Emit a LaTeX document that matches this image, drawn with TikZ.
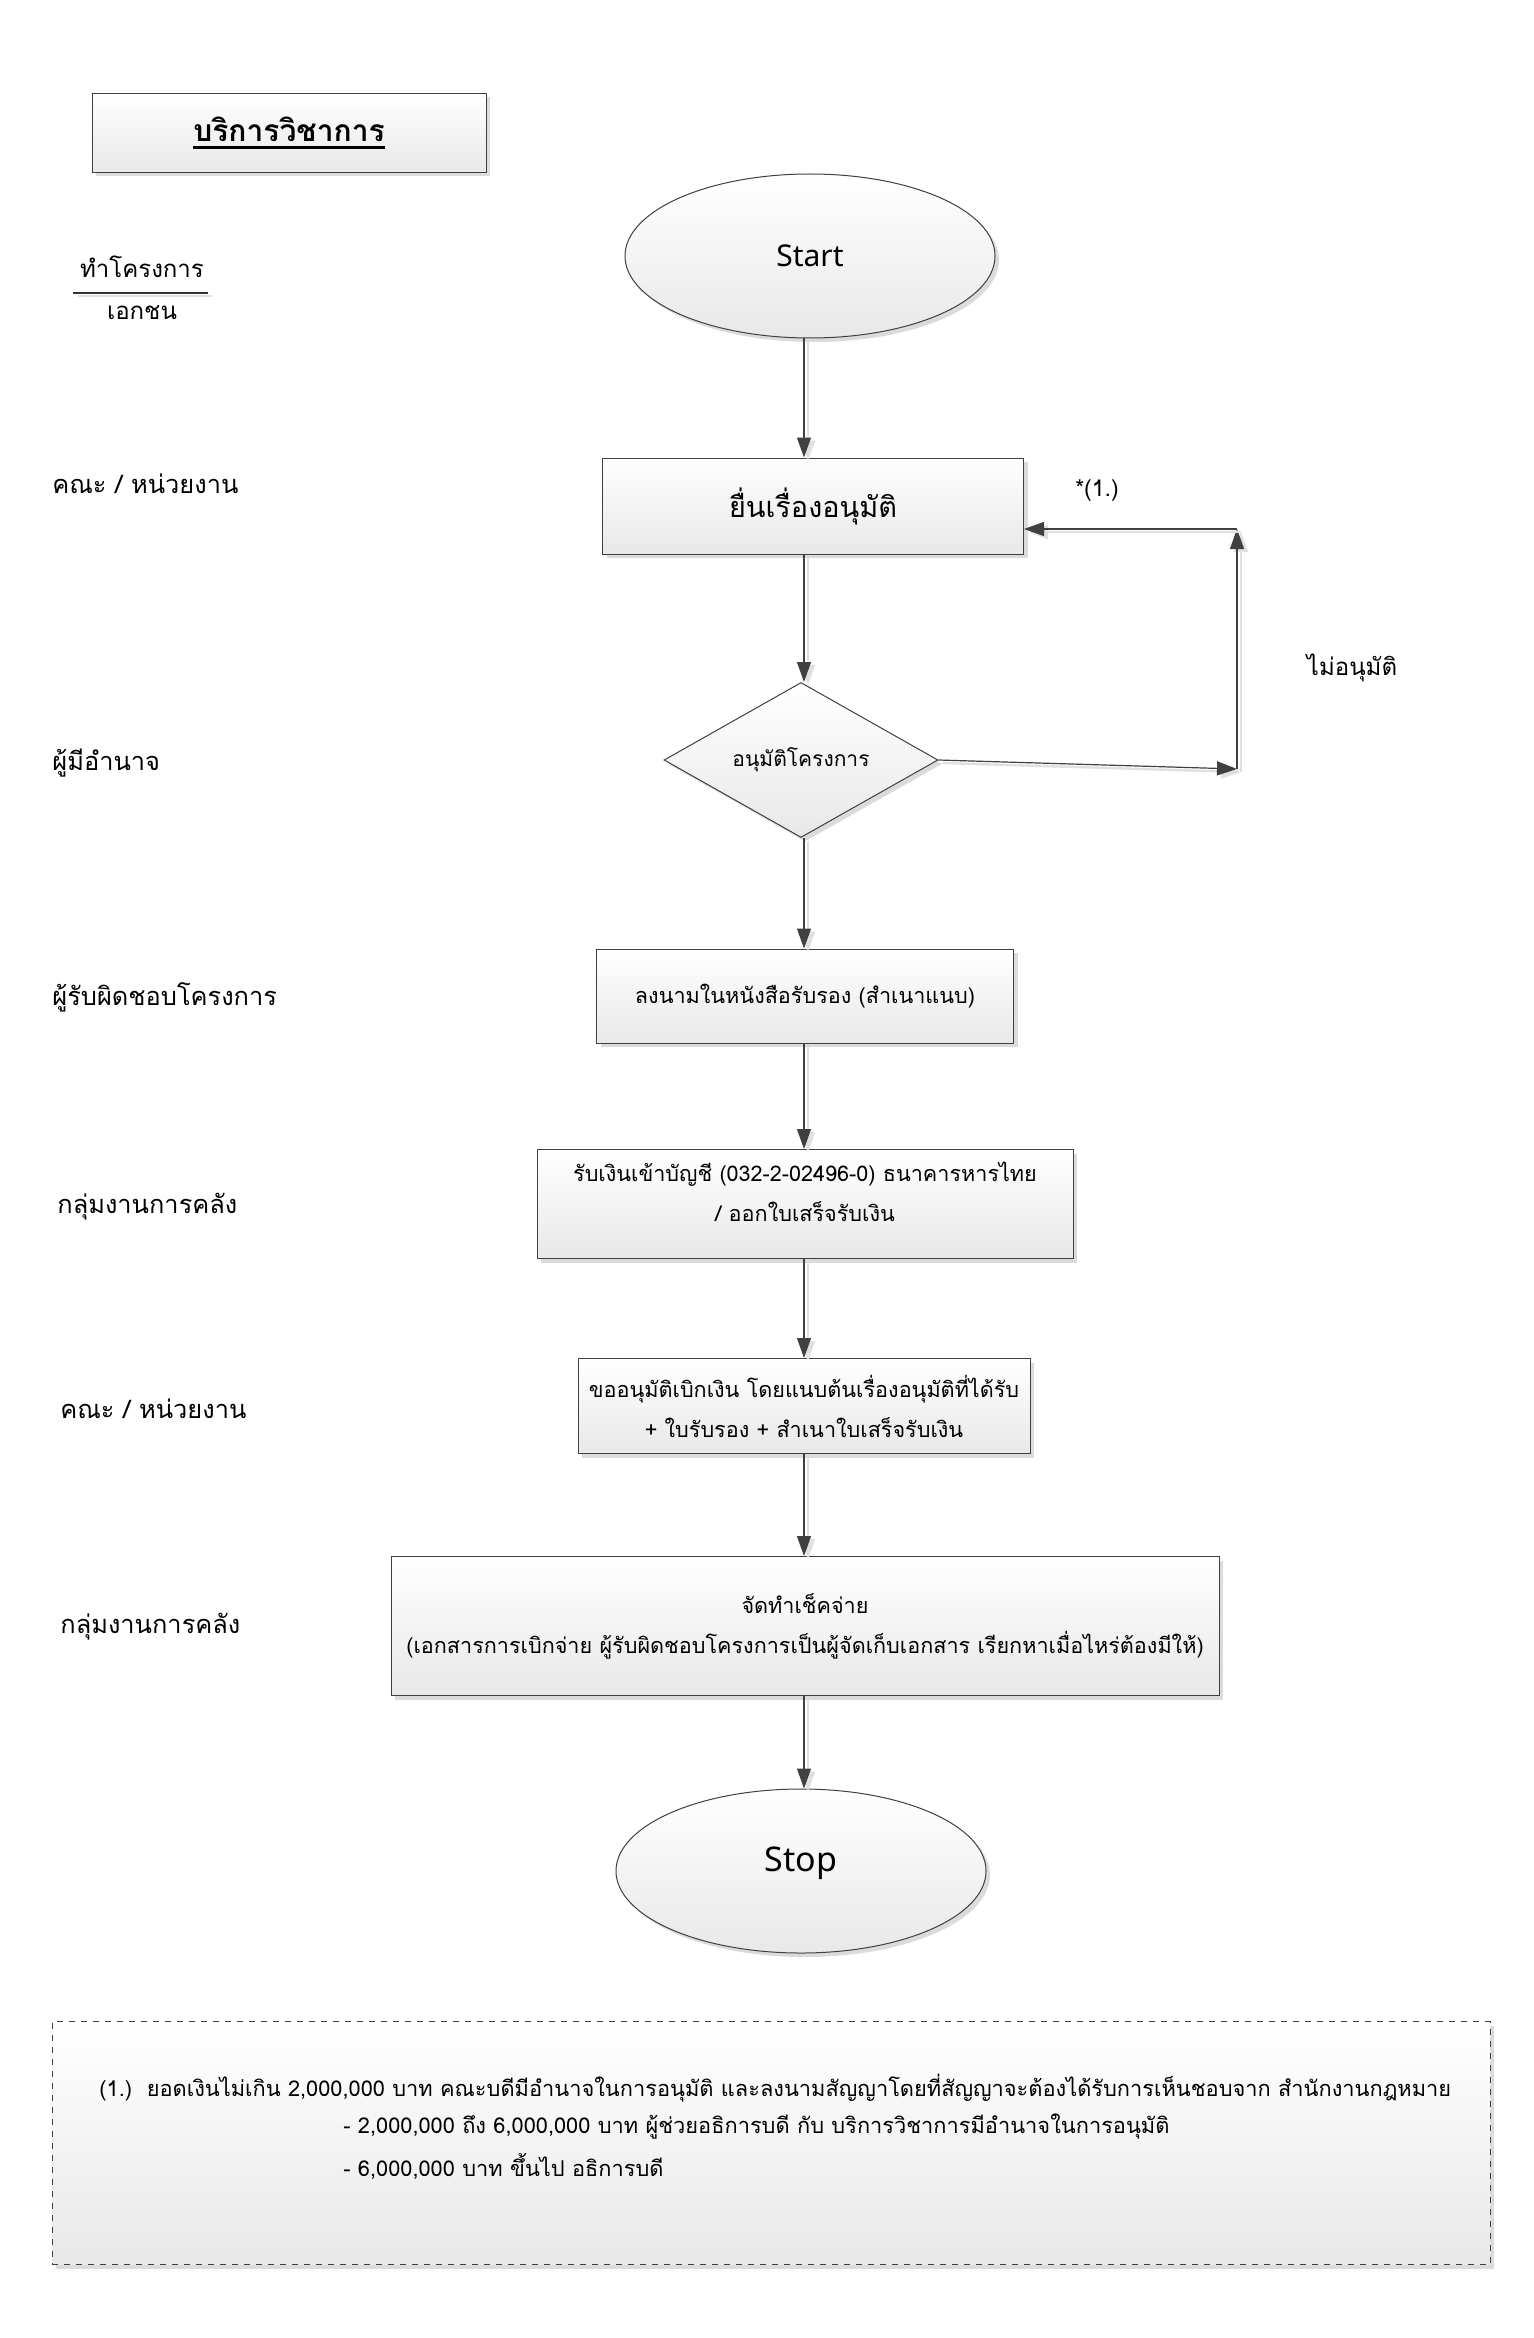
\documentclass[tikz,border=0pt]{standalone}
\usepackage{fontspec}
\setmainfont[Script=Thai]{Loma}
\newfontfamily\uifont{Noto Sans}
\usetikzlibrary{shapes.geometric,arrows.meta,shadows,calc}
\newcommand\ulthick[1]{\setbox0\hbox{#1}\rlap{\rule[-3.5pt]{\wd0}{1.4pt}}\box0}
\tikzset{
 shd/.style={drop shadow={shadow xshift=2pt,shadow yshift=-2pt,fill=black!14,opacity=1}},
 flow/.style={draw=black!75, line width=0.5pt, top color=white, bottom color=black!9, shd, inner sep=0pt, align=center},
 procbox/.style={flow, rectangle},
 term/.style={flow, ellipse, minimum width=185pt, minimum height=82pt},
 dec/.style={flow, diamond, aspect=1.77, minimum width=137pt, minimum height=77.5pt},
 arr/.style={draw=black!75, line width=0.6pt, -{Triangle[length=10pt,width=7pt]},
   preaction={draw=black!12, line width=1.2pt, transform canvas={xshift=2pt,yshift=-1.5pt}}},
 lane/.style={anchor=west, inner sep=0pt, font=\fontsize{12.7}{15}\selectfont},
 txt/.style={font=\fontsize{10.8}{20}\selectfont},
 plain/.style={inner sep=0pt, font=\fontsize{11.5}{14}\selectfont},
 notetxt/.style={inner sep=0pt, anchor=west, font=\fontsize{10.9}{14}\selectfont}
}
\begin{document}
\begin{tikzpicture}[x=0.5pt,y=-0.5pt]
\useasboundingbox[fill=white] (0,0) rectangle (1533,2338);
\coordinate (ax) at (804,0);
% title
\node[procbox, minimum width=197pt, minimum height=39.5pt] (title) at (289,133) {\fontsize{15}{18}\selectfont\bfseries\ulthick{บริการวิชาการ}};
% header
\node[plain, font=\fontsize{12}{14}\selectfont] (hd1) at (142,267) {ทำโครงการ};
\node[plain, font=\fontsize{12}{14}\selectfont] (hd2) at (142,313) {เอกชน};
\draw[black!12, line width=0.6pt] (78,296) -- (212,296);
\draw[black!80, line width=0.6pt] (73,293) -- (208,293);
% lanes
\node[lane] (l1) at (52,484) {คณะ / หน่วยงาน};
\node[lane] (l2) at (52,763) {ผู้มีอำนาจ};
\node[lane] (l3) at (52,997) {ผู้รับผิดชอบโครงการ};
\node[lane] (l4) at (57,1207) {กลุ่มงานการคลัง};
\node[lane] (l5) at (60,1409) {คณะ / หน่วยงาน};
\node[lane] (l6) at (60,1627) {กลุ่มงานการคลัง};
% flow
\node[term, font=\uifont\fontsize{15}{18}\selectfont] (start) at (810,256) {Start};
\node[procbox, minimum width=210.5pt, minimum height=48pt, font=\fontsize{14.4}{17}\selectfont] (box1) at (813,506) {ยื่นเรื่องอนุมัติ};
\node[dec, font=\fontsize{10.5}{13}\selectfont] (dia) at (801,760) {อนุมัติโครงการ};
\node[procbox, txt, minimum width=208.5pt, minimum height=47pt] (box3) at (805,996) {ลงนามในหนังสือรับรอง (สำเนาแนบ)};
\node[procbox, minimum width=268pt, minimum height=54.5pt] (box4) at (805,1204) {};
\node[txt, inner sep=0pt, align=center] (box4t) at (805,1192) {รับเงินเข้าบัญชี (032-2-02496-0) ธนาคารหารไทย\\/ ออกใบเสร็จรับเงิน};
\node[procbox, txt, minimum width=226pt, minimum height=47.5pt] (box5) at (804,1406) {ขออนุมัติเบิกเงิน โดยแนบต้นเรื่องอนุมัติที่ได้รับ\\+ ใบรับรอง + สำเนาใบเสร็จรับเงิน};
\node[procbox, txt, minimum width=414pt, minimum height=69.5pt] (box6) at (805,1626) {จัดทำเช็คจ่าย\\(เอกสารการเบิกจ่าย ผู้รับผิดชอบโครงการเป็นผู้จัดเก็บเอกสาร เรียกหาเมื่อไหร่ต้องมีให้)};
\node[term, font=\uifont\fontsize{17}{20}\selectfont] (stop) at (801,1871) {\raisebox{12pt}{Stop}};
% connectors
\draw[arr] (start.south -| ax) -- (box1.north -| ax);
\draw[arr] (box1.south -| ax) -- (dia.north -| ax);
\draw[arr] (dia.south -| ax) -- (box3.north -| ax);
\draw[arr] (box3.south -| ax) -- (box4.north -| ax);
\draw[arr] (box4.south -| ax) -- (box5.north -| ax);
\draw[arr] (box5.south -| ax) -- (box6.north -| ax);
\draw[arr] (box6.south -| ax) -- (stop.north -| ax);
% feedback
\coordinate (fbR) at (1237,769);
\coordinate (fbT) at (1237,529);
\draw[arr] (dia.east) -- (fbR);
\draw[arr] (fbR) -- (fbT);
\draw[arr] (fbT) -- (box1.east |- fbT);
\node[plain] (ref1) at (1097,491) {*(1.)};
\node[plain, font=\fontsize{12}{14}\selectfont] (notok) at (1352,668) {ไม่อนุมัติ};
% note
\node[procbox, dashed, minimum width=719pt, minimum height=121.5pt] (note) at (771,2143) {};
\node[notetxt] (n1) at (99,2088) {(1.)\ \ ยอดเงินไม่เกิน 2,000,000 บาท คณะบดีมีอำนาจในการอนุมัติ และลงนามสัญญาโดยที่สัญญาจะต้องได้รับการเห็นชอบจาก สำนักงานกฎหมาย};
\node[notetxt] (n2) at (343,2127) {- 2,000,000 ถึง 6,000,000 บาท ผู้ช่วยอธิการบดี กับ บริการวิชาการมีอำนาจในการอนุมัติ};
\node[notetxt] (n3) at (343,2166) {- 6,000,000 บาท ขึ้นไป อธิการบดี};
\end{tikzpicture}
\end{document}
